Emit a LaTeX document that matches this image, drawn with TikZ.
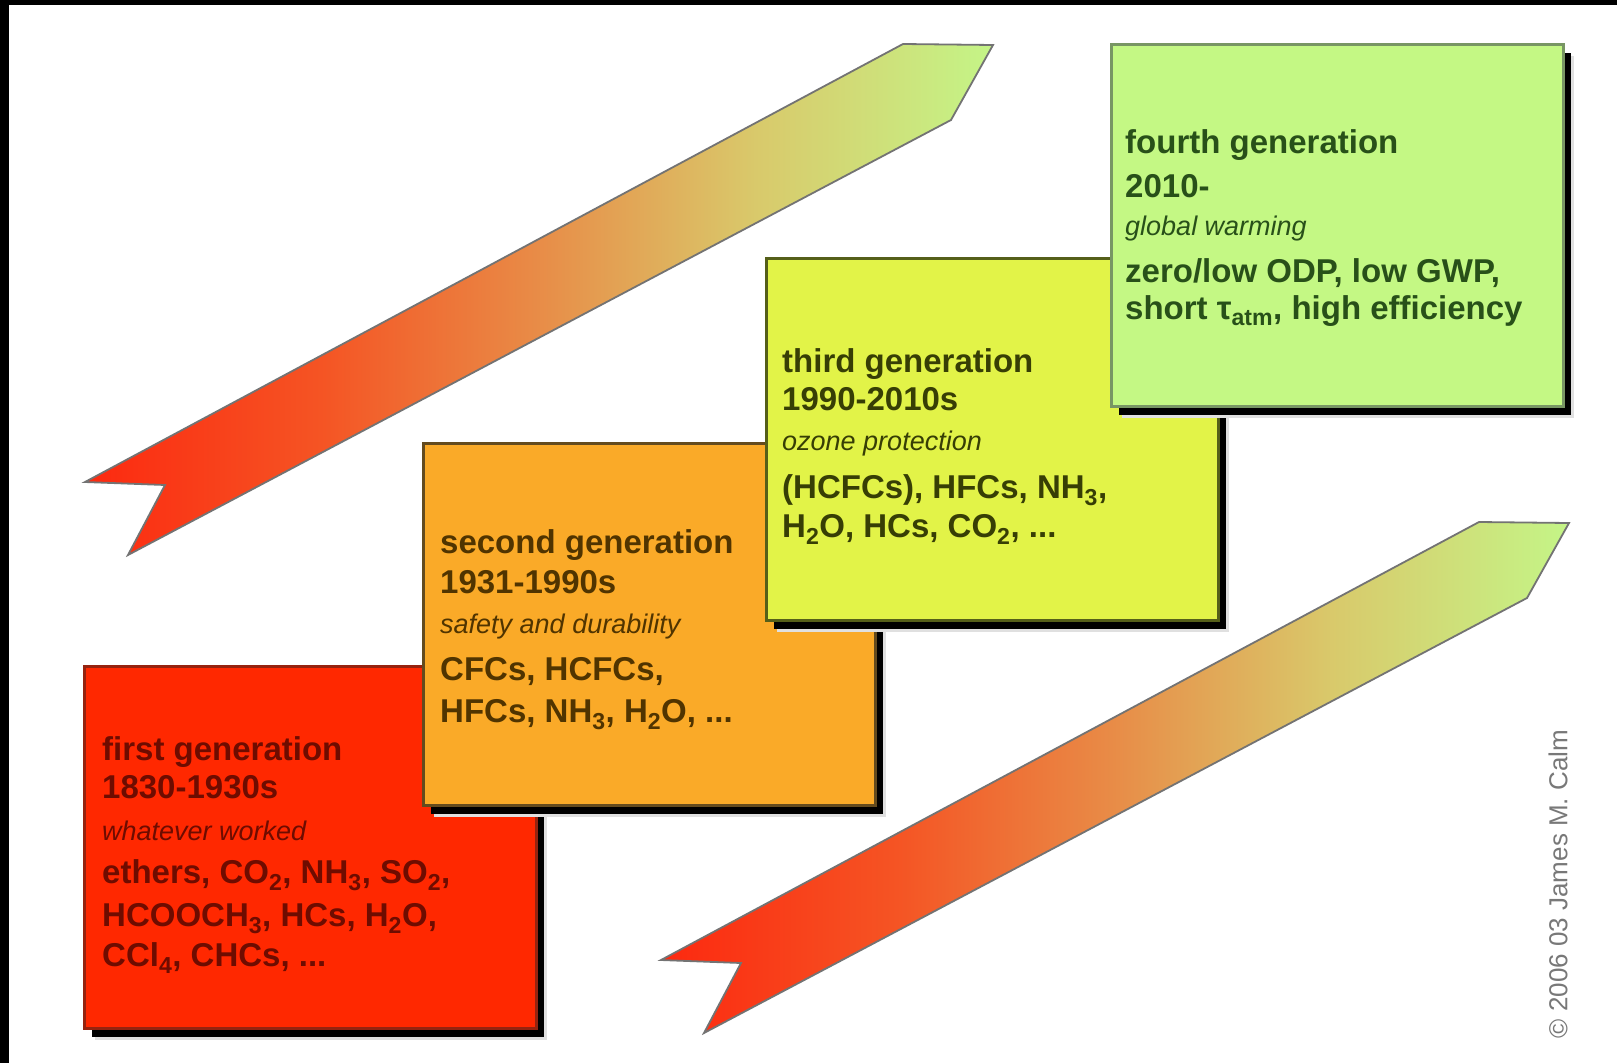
\documentclass[tikz,border=0pt]{standalone}
\usepackage{fontspec}
\setmainfont{Liberation Sans}
\usetikzlibrary{shadows}
\definecolor{redfill}{RGB}{255,40,0}
\definecolor{redline}{RGB}{150,35,15}
\definecolor{redtext}{RGB}{110,12,0}
\definecolor{orfill}{RGB}{250,170,40}
\definecolor{orline}{RGB}{100,75,30}
\definecolor{ortext}{RGB}{80,52,0}
\definecolor{yefill}{RGB}{226,243,72}
\definecolor{yeline}{RGB}{85,95,25}
\definecolor{yetext}{RGB}{55,62,5}
\definecolor{grfill}{RGB}{196,248,132}
\definecolor{grline}{RGB}{120,150,100}
\definecolor{grtext}{RGB}{40,80,25}
\definecolor{copygray}{RGB}{120,120,120}
\pgfdeclarehorizontalshading{ribbonshade}{100bp}{rgb(0bp)=(0.99,0.16,0.06); rgb(25bp)=(0.99,0.16,0.06); rgb(38bp)=(0.96,0.33,0.14); rgb(50bp)=(0.91,0.55,0.28); rgb(62bp)=(0.85,0.79,0.42); rgb(75bp)=(0.77,0.96,0.53); rgb(100bp)=(0.77,0.96,0.53)}
\begin{document}
\begin{tikzpicture}[x=1pt,y=-1pt,
  genbox/.style={anchor=north west, line width=3pt, outer sep=0pt, inner sep=0pt,
    minimum width=452pt, minimum height=362pt,
    general shadow={fill=black!12, shadow xshift=10pt, shadow yshift=-11pt},
    general shadow={fill=black, shadow xshift=7pt, shadow yshift=-8pt}},
  ln/.style={anchor=base west, inner sep=0pt, font=\fontsize{33}{38}\selectfont\bfseries},
  itl/.style={anchor=base west, inner sep=0pt, font=\fontsize{27}{31}\selectfont\itshape},
  ribbon/.style={shading=ribbonshade, draw=black!55, line width=1.8pt, line join=miter}
]
\useasboundingbox (0,0) rectangle (1617,1063);
\fill[white] (0,0) rectangle (1617,1063);
\fill[black] (0,0) rectangle (1617,5);
\fill[black] (0,0) rectangle (9,1063);

% ribbons
\shade[ribbon] (85,482) -- (903,44) -- (993,45) -- (951,120) -- (128,555) -- (165,485) -- cycle;
\shade[ribbon, shift={(576,478)}] (85,482) -- (903,44) -- (993,45) -- (951,120) -- (128,555) -- (165,485) -- cycle;

% first generation
\node[genbox, fill=redfill, draw=redline] (b1) at (84.5,666.5) {};
\begin{scope}[every node/.append style={text=redtext}]
\node[ln] (t1a) at (102,760) {first generation};
\node[ln] (t1b) at (102,798) {1830-1930s};
\node[itl] (t1c) at (102,840) {whatever worked};
\node[ln] (t1d) at (102,883) {ethers, CO\textsubscript{2}, NH\textsubscript{3}, SO\textsubscript{2},};
\node[ln] (t1e) at (102,926) {HCOOCH\textsubscript{3}, HCs, H\textsubscript{2}O,};
\node[ln] (t1f) at (102,966) {CCl\textsubscript{4}, CHCs, ...};
\end{scope}

% second generation
\node[genbox, fill=orfill, draw=orline] (b2) at (423.5,443.5) {};
\begin{scope}[every node/.append style={text=ortext}]
\node[ln] (t2a) at (440,553) {second generation};
\node[ln] (t2b) at (440,593) {1931-1990s};
\node[itl] (t2c) at (440,633) {safety and durability};
\node[ln] (t2d) at (440,680) {CFCs, HCFCs,};
\node[ln] (t2e) at (440,722) {HFCs, NH\textsubscript{3}, H\textsubscript{2}O, ...};
\end{scope}

% third generation
\node[genbox, fill=yefill, draw=yeline] (b3) at (766.5,258.5) {};
\begin{scope}[every node/.append style={text=yetext}]
\node[ln] (t3a) at (782,372) {third generation};
\node[ln] (t3b) at (782,410) {1990-2010s};
\node[itl] (t3c) at (782,450) {ozone protection};
\node[ln] (t3d) at (782,498) {(HCFCs), HFCs, NH\textsubscript{3},};
\node[ln] (t3e) at (782,537) {H\textsubscript{2}O, HCs, CO\textsubscript{2}, ...};
\end{scope}

% fourth generation
\node[genbox, fill=grfill, draw=grline] (b4) at (1111.5,44.5) {};
\begin{scope}[every node/.append style={text=grtext}]
\node[ln] (t4a) at (1125,153) {fourth generation};
\node[ln] (t4b) at (1125,197) {2010-};
\node[itl] (t4c) at (1125,235) {global warming};
\node[ln] (t4d) at (1125,282) {zero/low ODP, low GWP,};
\node[ln] (t4e) at (1125,319) {short τ\textsubscript{atm}, high efficiency};
\end{scope}

% copyright
\node[rotate=90, text=copygray, inner sep=0pt, font=\fontsize{26}{30}\selectfont] (copy) at (1558,884) {© 2006 03 James M. Calm};
\end{tikzpicture}
\end{document}
